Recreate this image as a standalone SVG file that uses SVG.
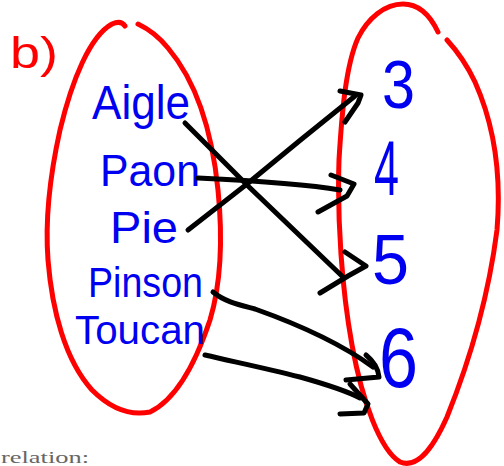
<svg xmlns="http://www.w3.org/2000/svg" width="504" height="466" viewBox="0 0 504 466">
<style>
.set{fill:none;stroke:#ff0000;stroke-width:5;stroke-linecap:round;stroke-linejoin:round}
.lbl{fill:#0000f0;font-family:"Liberation Sans","DejaVu Sans",sans-serif}
.con{fill:none;stroke:#000;stroke-width:5;stroke-linecap:round;stroke-linejoin:round}
</style>
<rect width="504" height="466" fill="#fff"/>
<text x="10" y="68" font-family="Liberation Sans,sans-serif" font-size="44" fill="#ff0000" textLength="48" lengthAdjust="spacingAndGlyphs">b)</text>
<g id="domain">
<path class="set" d="M125,26 Q121,20 112,24 C90,36 72,80 60,130 C50,175 45,220 48,260 C52,310 65,360 92,390 C110,408 130,416 150,412 C175,400 195,365 210,320 C222,280 222,230 218,190 C212,130 195,80 168,48 Q155,32 138,24"/>
<text class="lbl" x="92" y="119" font-size="48" textLength="98" lengthAdjust="spacingAndGlyphs">Aigle</text>
<text class="lbl" x="100" y="186" font-size="44" textLength="100" lengthAdjust="spacingAndGlyphs">Paon</text>
<text class="lbl" x="110" y="243" font-size="44" textLength="68" lengthAdjust="spacingAndGlyphs">Pie</text>
<text class="lbl" x="88" y="297" font-size="42" textLength="115" lengthAdjust="spacingAndGlyphs">Pinson</text>
<text class="lbl" x="75" y="344" font-size="40" textLength="130" lengthAdjust="spacingAndGlyphs">Toucan</text>
</g>
<g id="codomain">
<path class="set" d="M438,32 C430,15 418,4 403,4 C385,4 368,18 358,38 C346,65 342,110 339,160 C337,220 342,290 352,345 C362,400 380,450 400,462 C415,468 430,455 447,417 C470,360 488,300 497,230 C502,170 492,120 475,82 C467,65 458,52 447,40"/>
<text class="lbl" x="382" y="108" font-size="68" textLength="33" lengthAdjust="spacingAndGlyphs">3</text>
<text class="lbl" x="374" y="195" font-size="78" textLength="25" lengthAdjust="spacingAndGlyphs">4</text>
<text class="lbl" x="372" y="284" font-size="70" textLength="37" lengthAdjust="spacingAndGlyphs">5</text>
<text class="lbl" x="379" y="387" font-size="86" textLength="39" lengthAdjust="spacingAndGlyphs">6</text>
</g>
<g id="connectors">
<path class="con" d="M185,123 L247,185 L343,277"/>
<path class="con" d="M345,252 L366,266 L348,276 L320,293"/>
<path class="con" d="M198,178 C240,180 300,183 340,190"/>
<path class="con" d="M331,175 L354,184 L347,196 L318,212"/>
<path class="con" d="M188,230 L247,184 Q300,140 355,96"/>
<path class="con" d="M340,91 L361,95 L358,103 L345,122"/>
<path class="con" d="M213,292 C225,302 240,305 255,309 C300,325 340,343 373,367"/>
<path class="con" d="M366,355 Q378,365 379,377 L346,380"/>
<path class="con" d="M205,355 C235,362 265,368 300,377 C325,384 345,390 360,398"/>
<path class="con" d="M350,384 L368,404 L364,413 L340,414"/>
</g>
<text x="1" y="463" font-family="Liberation Serif,serif" font-size="17" fill="#666" textLength="88" lengthAdjust="spacingAndGlyphs">relation:</text>
</svg>
